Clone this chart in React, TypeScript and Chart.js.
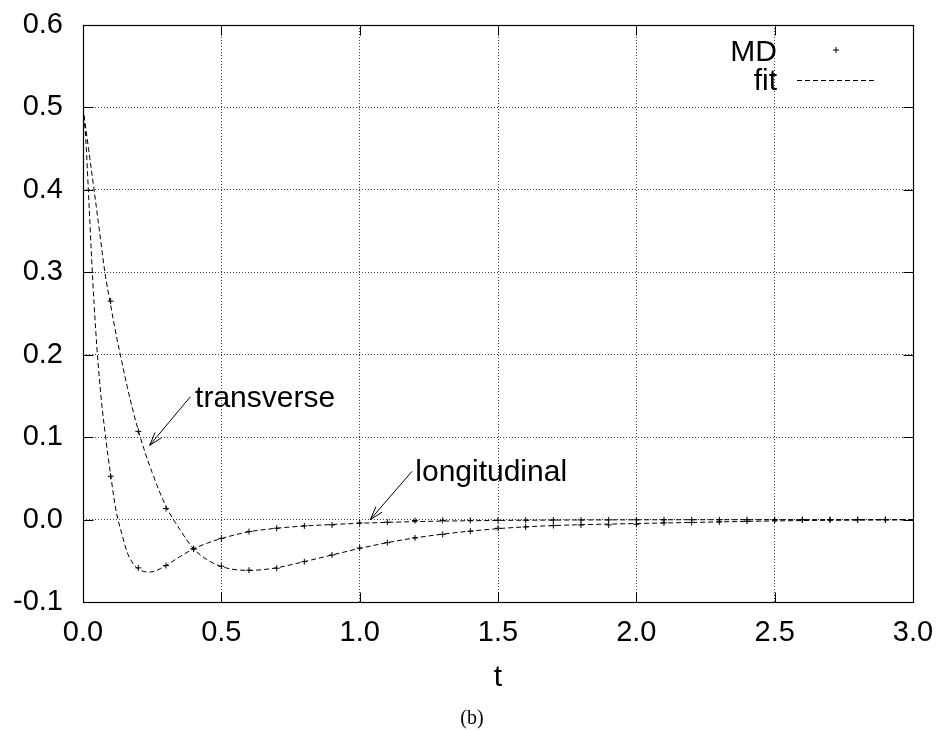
import React, { useEffect, useRef } from "react";
import { Chart, registerables } from "chart.js";

Chart.register(...registerables);

// ---- data ----
const mdTimes = [0, 0.1, 0.2, 0.3, 0.4, 0.5, 0.6, 0.7, 0.8, 0.9, 1.0, 1.1, 1.2, 1.3, 1.4, 1.5, 1.6, 1.7, 1.8, 1.9, 2.0, 2.1, 2.2, 2.3, 2.4, 2.5, 2.6, 2.7, 2.8, 2.9];
const mdLongitudinal = [0.5, 0.0525, -0.0586, -0.0558, -0.0355, -0.023, -0.0145, -0.0105, -0.0077, -0.0065, -0.004, -0.0032, -0.0012, -0.001, -0.001, -0.0008, -0.0008, -0.0006, -0.0005, -0.0004, -0.0003, -0.0002, -0.0002, -0.0002, -0.0001, -0.0001, -0.0001, 0, 0, 0];
const mdTransverse = [0.5, 0.265, 0.107, 0.0133, -0.0355, -0.0566, -0.0614, -0.059, -0.051, -0.043, -0.0345, -0.028, -0.0222, -0.018, -0.0141, -0.0105, -0.0089, -0.0073, -0.0065, -0.0065, -0.0057, -0.004, -0.0036, -0.0028, -0.002, -0.0008, -0.0004, -0.0004, -0.0003, -0.0003];

const fitLongT = [0, 0.01, 0.02, 0.03, 0.04, 0.05, 0.06, 0.07, 0.08, 0.09, 0.1, 0.12, 0.14, 0.16, 0.18, 0.2, 0.22, 0.24, 0.26, 0.28, 0.3, 0.35, 0.4, 0.45, 0.5, 0.6, 0.7, 0.8, 0.9, 1.0, 1.1, 1.2, 1.4, 1.6, 1.8, 2.0, 2.5, 3.0];
const fitLongV = [0.5, 0.462, 0.395, 0.325, 0.262, 0.21, 0.168, 0.133, 0.105, 0.078, 0.054, 0.01, -0.017, -0.04, -0.053, -0.06, -0.063, -0.0637, -0.0625, -0.0595, -0.0558, -0.045, -0.0355, -0.0285, -0.023, -0.0148, -0.0105, -0.0078, -0.006, -0.0045, -0.0034, -0.0025, -0.0014, -0.0008, -0.0005, -0.0003, -0.0001, 0];

const fitTransT = [0, 0.02, 0.04, 0.06, 0.08, 0.1, 0.12, 0.14, 0.16, 0.18, 0.2, 0.22, 0.25, 0.3, 0.35, 0.4, 0.45, 0.5, 0.55, 0.6, 0.65, 0.7, 0.8, 0.9, 1.0, 1.1, 1.2, 1.3, 1.4, 1.5, 1.6, 1.7, 1.8, 1.9, 2.0, 2.2, 2.4, 2.6, 2.8, 3.0];
const fitTransV = [0.5, 0.45, 0.4, 0.349, 0.298, 0.26, 0.224, 0.192, 0.161, 0.133, 0.108, 0.086, 0.057, 0.016, -0.012, -0.0355, -0.049, -0.057, -0.0607, -0.0617, -0.0607, -0.0585, -0.051, -0.043, -0.035, -0.028, -0.0222, -0.0177, -0.014, -0.011, -0.0088, -0.0073, -0.0062, -0.0055, -0.0048, -0.0035, -0.0022, -0.0012, -0.0007, -0.0004];

const xTickValues = [0, 0.5, 1.0, 1.5, 2.0, 2.5, 3.0];
const yTickValues = [-0.1, 0.0, 0.1, 0.2, 0.3, 0.4, 0.5, 0.6];
const legendLabels = ["MD", "fit"];
const xAxisTitle = "t";
const caption = "(b)";

// annotations (data coordinates: t, value)
const annotationLabels = ["transverse", "longitudinal"];
const annotationTextAt = [[0.405, 0.1366], [1.201, 0.047]];
const arrowFrom = [[0.388, 0.149], [1.189, 0.0585]];
const arrowTo = [[0.241, 0.09], [1.0385, 0.0]];

const SANS = '"Liberation Sans", Arial, Helvetica, sans-serif';
const SERIF = '"Liberation Serif", "Times New Roman", serif';
const FS = 29;
const FS_TEXT = 30;

function drawArrow(ctx: CanvasRenderingContext2D, x0: number, y0: number, x1: number, y1: number) {
  const ang = Math.atan2(y1 - y0, x1 - x0);
  const len = 14;
  const spread = 0.3;
  ctx.beginPath();
  ctx.moveTo(x0, y0);
  ctx.lineTo(x1, y1);
  ctx.moveTo(x1 - len * Math.cos(ang - spread), y1 - len * Math.sin(ang - spread));
  ctx.lineTo(x1, y1);
  ctx.lineTo(x1 - len * Math.cos(ang + spread), y1 - len * Math.sin(ang + spread));
  ctx.stroke();
}

const decorPlugin = {
  id: "gnuplotDecor",
  afterDraw(chart: any) {
    const { ctx, chartArea: a, scales } = chart;
    const x = scales.x;
    const y = scales.y;
    ctx.save();
    ctx.strokeStyle = "#000";
    ctx.fillStyle = "#000";
    ctx.lineWidth = 1;
    ctx.setLineDash([]);
    const L = 10;
    const left = Math.round(a.left) + 0.5;
    const right = Math.round(a.right) + 0.5;
    const top = Math.round(a.top) + 0.5;
    const bottom = Math.round(a.bottom) + 0.5;
    ctx.beginPath();
    xTickValues.forEach((v) => {
      const px = Math.round(x.getPixelForValue(v)) + 0.5;
      ctx.moveTo(px, bottom);
      ctx.lineTo(px, bottom - L);
      ctx.moveTo(px, top);
      ctx.lineTo(px, top + L);
    });
    yTickValues.forEach((v) => {
      const py = Math.round(y.getPixelForValue(v)) + 0.5;
      ctx.moveTo(left, py);
      ctx.lineTo(left + L, py);
      ctx.moveTo(right, py);
      ctx.lineTo(right - L, py);
    });
    ctx.stroke();
    ctx.lineWidth = 1.2;
    ctx.strokeRect(left, top, right - left, bottom - top);
    ctx.lineWidth = 1;

    // annotations
    ctx.font = `${FS_TEXT}px ${SANS}`;
    ctx.textAlign = "left";
    ctx.textBaseline = "alphabetic";
    annotationLabels.forEach((label, i) => {
      const [tx, ty] = annotationTextAt[i];
      ctx.fillText(label, x.getPixelForValue(tx), y.getPixelForValue(ty));
      const [fx, fy] = arrowFrom[i];
      const [ex, ey] = arrowTo[i];
      drawArrow(ctx, x.getPixelForValue(fx), y.getPixelForValue(fy), x.getPixelForValue(ex), y.getPixelForValue(ey));
    });

    // legend (gnuplot style, top right inside)
    ctx.textAlign = "right";
    ctx.fillText(legendLabels[0], a.right - 136, a.top + 36);
    ctx.fillText(legendLabels[1], a.right - 136, a.top + 65);
    const cx = a.right - 77;
    const cy = a.top + 25;
    ctx.beginPath();
    ctx.moveTo(cx - 3, cy);
    ctx.lineTo(cx + 3, cy);
    ctx.moveTo(cx, cy - 3);
    ctx.lineTo(cx, cy + 3);
    ctx.stroke();
    ctx.setLineDash([5, 3]);
    ctx.beginPath();
    ctx.moveTo(a.right - 116, a.top + 55.5);
    ctx.lineTo(a.right - 37, a.top + 55.5);
    ctx.stroke();
    ctx.setLineDash([]);

    // caption
    ctx.font = `20px ${SERIF}`;
    ctx.textAlign = "center";
    ctx.fillText(caption, 472, 724);
    ctx.restore();
  },
};

function zeroPadding(scale: any) {
  scale.paddingLeft = 0;
  scale.paddingRight = 0;
  scale.paddingTop = 0;
  scale.paddingBottom = 0;
}

export default function App() {
  const canvasRef = useRef<HTMLCanvasElement | null>(null);

  useEffect(() => {
    const canvas = canvasRef.current;
    if (!canvas) return;
    Chart.defaults.font.family = SANS;
    const fitStyle = {
      borderColor: "#000",
      borderWidth: 1,
      borderDash: [5, 3],
      pointRadius: 0,
      fill: false,
      cubicInterpolationMode: "monotone" as const,
    };
    const mdStyle = {
      showLine: false,
      pointStyle: "cross" as const,
      pointRadius: 3,
      pointBorderWidth: 1,
      borderColor: "#000",
      backgroundColor: "#000",
    };
    const chart = new Chart(canvas, {
      type: "line",
      data: {
        datasets: [
          { label: "fit longitudinal", data: fitLongT.map((t, i) => ({ x: t, y: fitLongV[i] })), ...fitStyle },
          { label: "fit transverse", data: fitTransT.map((t, i) => ({ x: t, y: fitTransV[i] })), ...fitStyle },
          { label: "MD longitudinal", data: mdTimes.map((t, i) => ({ x: t, y: mdLongitudinal[i] })), ...mdStyle },
          { label: "MD transverse", data: mdTimes.map((t, i) => ({ x: t, y: mdTransverse[i] })), ...mdStyle },
        ],
      },
      options: {
        animation: false,
        responsive: false,
        devicePixelRatio: 1,
        layout: { padding: { left: 0, top: 25, right: 25, bottom: 0 } },
        plugins: { legend: { display: false }, tooltip: { enabled: false }, title: { display: false } },
        scales: {
          x: {
            type: "linear",
            min: 0,
            max: 3,
            afterBuildTicks: (scale: any) => {
              scale.ticks = xTickValues.map((v) => ({ value: v }));
            },
            afterFit: (scale: any) => {
              scale.height = 131;
              zeroPadding(scale);
            },
            ticks: {
              color: "#000",
              padding: 14,
              font: { size: FS, family: SANS },
              maxRotation: 0,
              callback: (v: any) => Number(v).toFixed(1),
            },
            grid: { color: "rgba(0,0,0,0.75)", lineWidth: 1, drawTicks: false },
            border: { display: false, dash: [1, 2] },
            title: {
              display: true,
              text: xAxisTitle,
              color: "#000",
              font: { size: FS_TEXT, family: SANS },
              padding: { top: 0, bottom: 37 },
            },
          },
          y: {
            type: "linear",
            min: -0.1,
            max: 0.6,
            afterBuildTicks: (scale: any) => {
              scale.ticks = yTickValues.map((v) => ({ value: v }));
            },
            afterFit: (scale: any) => {
              scale.width = 83;
              zeroPadding(scale);
            },
            ticks: {
              color: "#000",
              padding: 20,
              font: { size: FS, family: SANS },
              callback: (v: any) => Number(v).toFixed(1),
            },
            grid: { color: "rgba(0,0,0,0.75)", lineWidth: 1, drawTicks: false },
            border: { display: false, dash: [1, 2] },
          },
        },
      },
      plugins: [decorPlugin],
    });
    return () => chart.destroy();
  }, []);

  return (
    <div style={{ position: "fixed", left: 0, top: 0, width: 938, height: 733, background: "#fff" }}>
      <canvas ref={canvasRef} width={938} height={733} style={{ display: "block", width: 938, height: 733 }} />
    </div>
  );
}
